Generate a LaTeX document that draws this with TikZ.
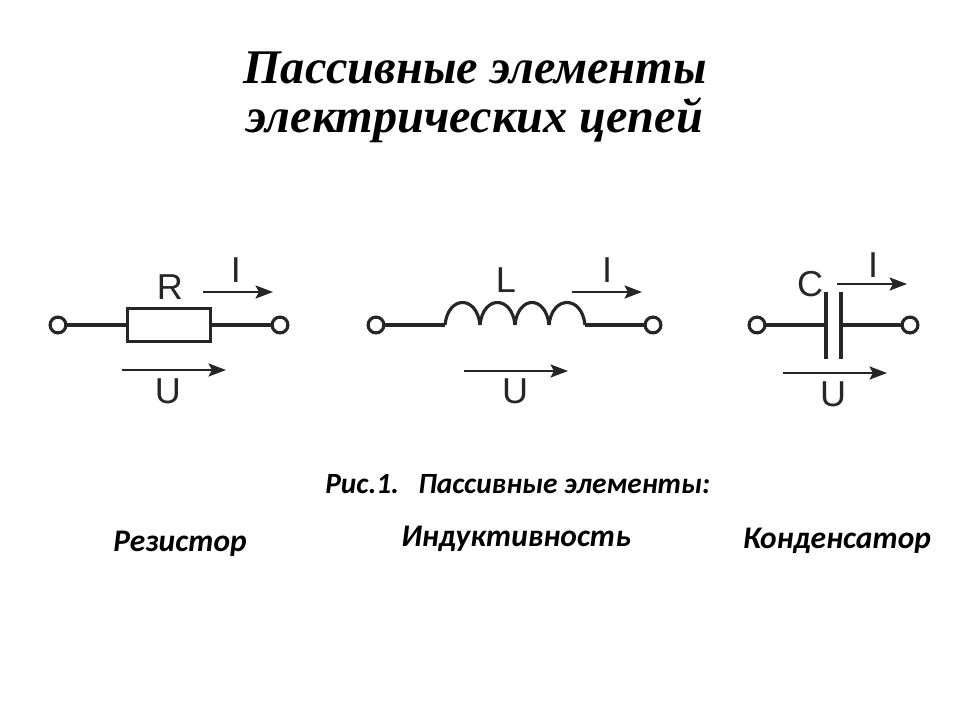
\documentclass[tikz,border=0pt]{standalone}
\usepackage{fontspec}
\setmainfont{Liberation Serif}
\newfontfamily\labelfont{Liberation Sans}
\newfontfamily\capfont{Carlito}
\usetikzlibrary{arrows.meta}
\tikzset{
	wire/.style={line width=1.8pt, black!85},
	flow/.style={line width=0.9pt, black!85, -{Stealth[length=10pt, width=7.5pt, inset=2pt]}},
	terminal/.style={circle, draw=black!85, fill=white, line width=1.8pt, minimum size=9pt, inner sep=0pt},
	letter/.style={font=\labelfont\fontsize{20.5}{20.5}\selectfont, text=black!85, inner sep=0pt},
	caption/.style={font=\capfont\bfseries\itshape\fontsize{17.9}{17.9}\selectfont, text=black, inner sep=0pt},
	figcap/.style={font=\capfont\bfseries\itshape\fontsize{16.7}{16.7}\selectfont, text=black, inner sep=0pt, anchor=west},
	heading/.style={font=\bfseries\itshape\fontsize{27.5}{27.5}\selectfont, text=black, inner sep=0pt}
}
\def\hump(#1)(#2){\draw[wire] (#1) .. controls +(3,-30) and +(-3,-30) .. (#2);}

\begin{document}
\begin{tikzpicture}[x=0.02cm, y=-0.02cm]
	\useasboundingbox (0, 0) rectangle (960, 720);
	%%%%% TITLE %%%%%
	\node[heading] (title1) at (475, 68) {Пассивные элементы};
	\node[heading] (title2) at (475, 120) {электрических цепей};

	%%%%% RESISTOR %%%%%
	\node[terminal] (ra) at (58, 325) {};
	\node[terminal] (rb) at (280, 325) {};
	\node[draw=black!85, line width=1.8pt, minimum width=47.5pt, minimum height=19pt, inner sep=0pt] (rbox) at (169, 325) {};
	\draw[wire] (ra) -- (rbox);
	\draw[wire] (rbox) -- (rb);
	\node[letter] (rname) at (170, 287) {R};
	\coordinate (ri1) at (203, 292);
	\coordinate (ri2) at (273, 292);
	\draw[flow] (ri1) -- (ri2);
	\node[letter] (rcur) at (236, 270) {I};
	\coordinate (ru1) at (122, 370);
	\coordinate (ru2) at (226, 370);
	\draw[flow] (ru1) -- (ru2);
	\node[letter] (rvolt) at (168, 391) {U};

	%%%%% INDUCTOR %%%%%
	\node[terminal] (la) at (376, 325) {};
	\node[terminal] (lb) at (653, 325) {};
	\coordinate (l0) at (445, 325);
	\coordinate (l1) at (480, 325);
	\coordinate (l2) at (515, 325);
	\coordinate (l3) at (549, 325);
	\coordinate (l4) at (585, 325);
	\draw[wire] (la) -- (l0);
	\hump(l0)(l1)
	\hump(l1)(l2)
	\hump(l2)(l3)
	\hump(l3)(l4)
	\draw[wire] (l4) -- (lb);
	\node[letter] (lname) at (506, 280) {L};
	\coordinate (li1) at (572, 292);
	\coordinate (li2) at (642, 292);
	\draw[flow] (li1) -- (li2);
	\node[letter] (lcur) at (607, 270) {I};
	\coordinate (lu1) at (464, 371);
	\coordinate (lu2) at (568, 371);
	\draw[flow] (lu1) -- (lu2);
	\node[letter] (lvolt) at (515, 391) {U};

	%%%%% CAPACITOR %%%%%
	\node[terminal] (ca) at (757, 325) {};
	\node[terminal] (cb) at (910, 325) {};
	\coordinate (cp1) at (826, 292);
	\coordinate (cp2) at (826, 359);
	\coordinate (cq1) at (841, 292);
	\coordinate (cq2) at (841, 359);
	\coordinate (cl) at (826, 325);
	\coordinate (cr) at (841, 325);
	\draw[wire] (cp1) -- (cp2);
	\draw[wire] (cq1) -- (cq2);
	\draw[wire] (ca) -- (cl);
	\draw[wire] (cr) -- (cb);
	\node[letter] (cname) at (810, 284) {C};
	\coordinate (ci1) at (837, 284);
	\coordinate (ci2) at (907, 284);
	\draw[flow] (ci1) -- (ci2);
	\node[letter] (ccur) at (873, 265) {I};
	\coordinate (cu1) at (783, 373);
	\coordinate (cu2) at (887, 373);
	\draw[flow] (cu1) -- (cu2);
	\node[letter] (cvolt) at (833, 394) {U};

	%%%%% CAPTIONS %%%%%
	\node[figcap] (fig) at (325, 484) {Рис.1.};
	\node[figcap] (figtext) at (418, 484) {Пассивные элементы:};
	\node[caption] (rcap) at (180, 544) {Резистор};
	\node[caption] (lcap) at (516, 539) {Индуктивность};
	\node[caption] (ccap) at (837, 541) {Конденсатор};
\end{tikzpicture}
\end{document}
